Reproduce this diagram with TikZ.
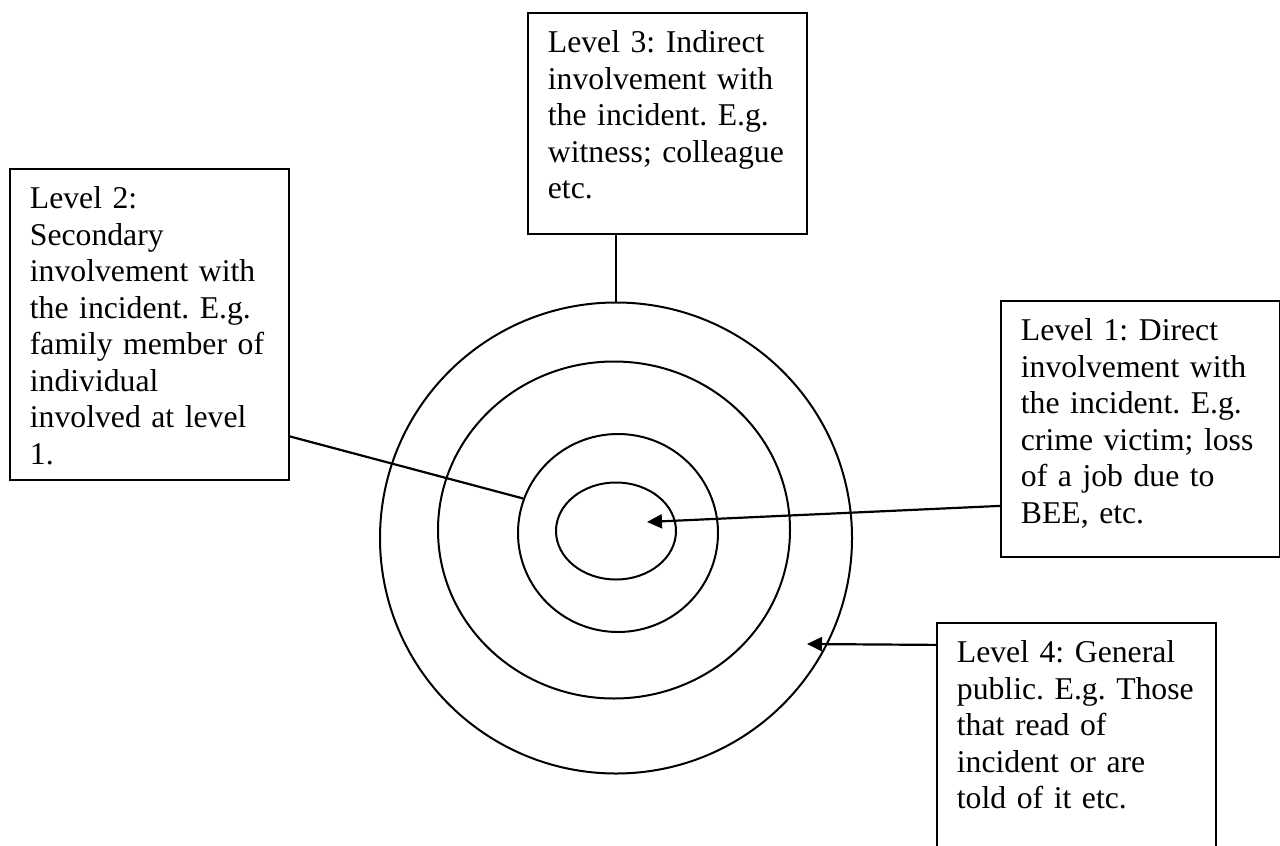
\documentclass[tikz,border=0pt]{standalone}
\usepackage{fontspec}
\setmainfont{Liberation Serif}
\usetikzlibrary{shapes.geometric, arrows.meta}
\begin{document}
\begin{tikzpicture}[x=1pt, y=-1pt,
    box/.style = {draw, line width=1.8pt, anchor=north west, align=left, text width=239pt, inner xsep=20pt, inner ysep=18pt, text height=22pt, font=\fontsize{31.7}{36.5}\selectfont\frenchspacing},
    ring/.style = {draw, ellipse, line width=2pt, inner sep=0pt},
    link/.style = {line width=2.2pt},
    tip/.style = {-{Triangle[length=15pt, width=14pt]}}]
    \useasboundingbox (0,0) rectangle (1280,846);
    %Rings
    \node[ring, minimum width=472pt, minimum height=471pt] (r4) at (616,538) {};
    \node[ring, minimum width=352pt, minimum height=337pt] (r3) at (614,530) {};
    \node[ring, minimum width=200pt, minimum height=198pt] (r2) at (618,533) {};
    \node[ring, minimum width=120pt, minimum height=97pt] (r1) at (616,531) {};
    %Levels
    \node[box, text depth=198pt] (l1) at (1000,300) {Level 1: Direct\\involvement with\\the incident. E.g.\\crime victim; loss\\of a job due to\\BEE, etc.};
    \node[box, text depth=253pt] (l2) at (9,168) {Level 2:\\Secondary\\involvement with\\the incident. E.g.\\family member of\\individual\\involved at level\\1.};
    \node[box, text depth=163pt] (l3) at (527,12) {Level 3: Indirect\\involvement with\\the incident. E.g.\\witness; colleague\\etc.};
    \node[box, text depth=186pt] (l4) at (936,622) {Level 4: General\\public. E.g. Those\\that read of\\incident or are\\told of it etc.};
    \coordinate (t1) at (647,522);
    \coordinate (t4) at (807,644);
    \draw[link, tip] ([yshift=-77pt]l1.west) -- (t1);
    \draw[link] ([yshift=-112pt]l2.east) -- (r2.160);
    \draw[link] (r4.north |- l3.south) -- (r4.north);
    \draw[link, tip] ([yshift=100pt]l4.west) -- (t4);
\end{tikzpicture}
\end{document}
